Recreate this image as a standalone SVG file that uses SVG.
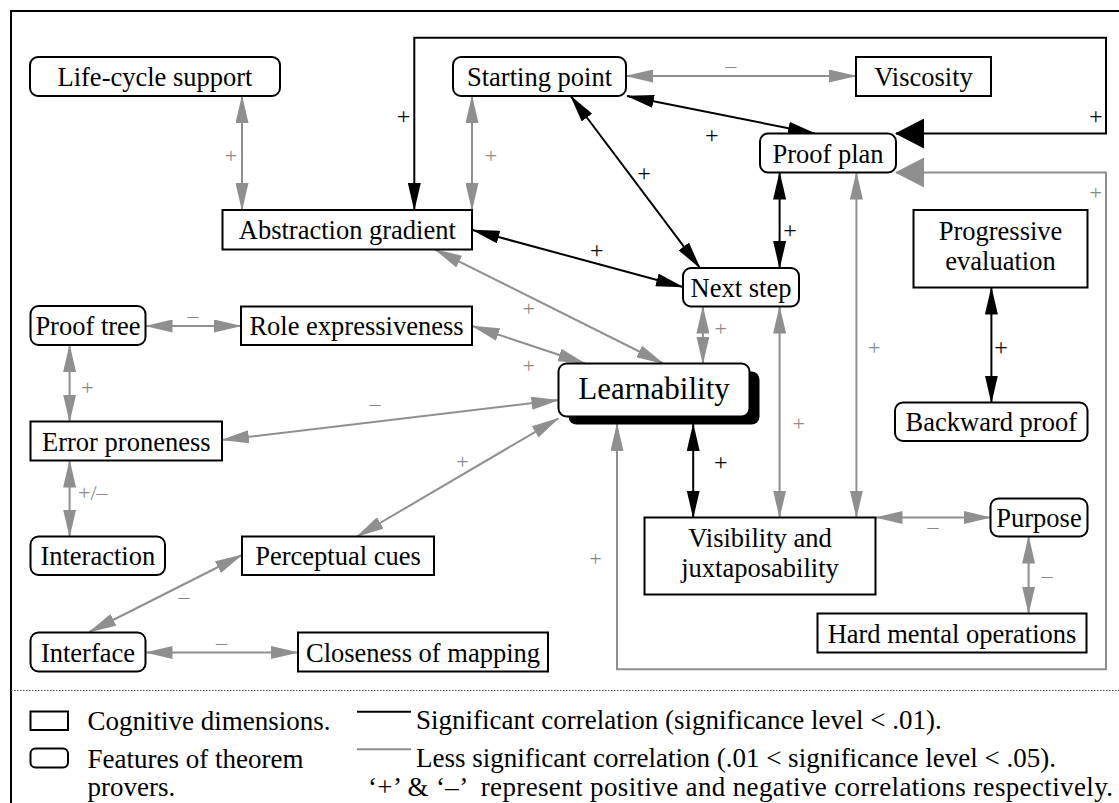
<svg xmlns="http://www.w3.org/2000/svg" width="1119" height="803" viewBox="0 0 1119 803">
<style>
text { font-family: "Liberation Serif", "Times New Roman", serif; }
.box { fill: #fff; stroke: #000; stroke-width: 2; }
.lbl { font-size: 26.5px; text-anchor: middle; fill: #000; }
.big { font-size: 31px; }
.cb { fill: none; stroke: #000; stroke-width: 2; marker-start: url(#aB); marker-end: url(#aB); }
.cg { fill: none; stroke: #8f8f8f; stroke-width: 2; marker-start: url(#aG); marker-end: url(#aG); }
.pb { font-size: 24px; text-anchor: middle; fill: #000; }
.pg { font-size: 22px; text-anchor: middle; fill: #8a8a8a; }
.leg { font-size: 27px; fill: #000; }
</style>
<defs>
<marker id="aB" markerUnits="userSpaceOnUse" viewBox="0 0 28 13" markerWidth="28" markerHeight="13" refX="27" refY="6.5" orient="auto-start-reverse"><path d="M0,0 L28,6.5 L0,13 z" fill="#000"/></marker>
<marker id="aG" markerUnits="userSpaceOnUse" viewBox="0 0 28 13" markerWidth="28" markerHeight="13" refX="27" refY="6.5" orient="auto-start-reverse"><path d="M0,0 L28,6.5 L0,13 z" fill="#8f8f8f"/></marker>
<marker id="bB" markerUnits="userSpaceOnUse" viewBox="0 0 29 30" markerWidth="29" markerHeight="30" refX="28" refY="15" orient="auto"><path d="M0,0 L29,15 L0,30 z" fill="#000"/></marker>
<marker id="bG" markerUnits="userSpaceOnUse" viewBox="0 0 29 30" markerWidth="29" markerHeight="30" refX="28" refY="15" orient="auto"><path d="M0,0 L29,15 L0,30 z" fill="#8f8f8f"/></marker>
</defs>
<rect width="1119" height="803" fill="#fff"/>
<!-- frame -->
<path d="M11,803 V11 H1119" fill="none" stroke="#000" stroke-width="2"/>
<line x1="11" y1="690.5" x2="1119" y2="690.5" stroke="#555" stroke-width="1" stroke-dasharray="1.5,1.5"/>

<g id="connectors">
<line class="cg" x1="242" y1="96" x2="242" y2="210"/>
<line class="cg" x1="472" y1="96" x2="472" y2="210"/>
<path d="M414.3,210 V37.7 H1106 V133.5 H896" fill="none" stroke="#000" stroke-width="2" marker-start="url(#aB)" marker-end="url(#bB)"/>
<line class="cg" x1="626" y1="76" x2="856" y2="76"/>
<line class="cb" x1="627" y1="96" x2="815" y2="133.5"/>
<line class="cb" x1="570.7" y1="96" x2="700" y2="268"/>
<line class="cb" x1="779.6" y1="172.5" x2="779.6" y2="268"/>
<line class="cb" x1="472.5" y1="230" x2="683" y2="287"/>
<line class="cg" x1="856.4" y1="172.5" x2="856.4" y2="517.5"/>
<path d="M617,424 V669.3 H1106 V172.5 H896" fill="none" stroke="#8f8f8f" stroke-width="2" marker-start="url(#aG)" marker-end="url(#bG)"/>
<line class="cg" x1="702.9" y1="306.5" x2="702.9" y2="363.5"/>
<line class="cg" x1="779.6" y1="306.5" x2="779.6" y2="517.5"/>
<line class="cb" x1="693.2" y1="424" x2="693.2" y2="517.5"/>
<line class="cb" x1="991.4" y1="287.5" x2="991.4" y2="402.5"/>
<line class="cg" x1="875.5" y1="517.5" x2="990.5" y2="517.5"/>
<line class="cg" x1="1028.6" y1="536.5" x2="1028.6" y2="613.5"/>
<line class="cg" x1="435" y1="249.5" x2="663.3" y2="363.5"/>
<line class="cg" x1="472.5" y1="326" x2="585" y2="363.5"/>
<line class="cg" x1="145.5" y1="326" x2="241" y2="326"/>
<line class="cg" x1="69.6" y1="345" x2="69.6" y2="421.5"/>
<line class="cg" x1="222" y1="440" x2="558.5" y2="400"/>
<line class="cg" x1="69.6" y1="460.5" x2="69.6" y2="536.5"/>
<line class="cg" x1="357" y1="536.5" x2="558.5" y2="418.3"/>
<line class="cg" x1="242" y1="555" x2="89.3" y2="632"/>
<line class="cg" x1="145.5" y1="652.5" x2="298" y2="652.5"/>

<!-- black labels -->
<text class="pb" x="403.6" y="124">+</text>
<text class="pb" x="1095.7" y="124">+</text>
<text class="pb" x="711.8" y="143">+</text>
<text class="pb" x="644" y="181">+</text>
<text class="pb" x="790" y="238">+</text>
<text class="pb" x="596.7" y="258">+</text>
<text class="pb" x="1001" y="354.5">+</text>
<text class="pb" x="720.7" y="469.5">+</text>
<!-- gray labels -->
<text class="pg" x="231" y="163">+</text>
<text class="pg" x="491" y="163">+</text>
<text class="pg" x="730.7" y="72.5">–</text>
<text class="pg" x="1095.7" y="199.5">+</text>
<text class="pg" x="720.7" y="335.5">+</text>
<text class="pg" x="874.3" y="354.5">+</text>
<text class="pg" x="798.6" y="431">+</text>
<text class="pg" x="933" y="534">–</text>
<text class="pg" x="1047" y="582.5">–</text>
<text class="pg" x="595.4" y="565.5">+</text>
<text class="pg" x="192.9" y="322.5">–</text>
<text class="pg" x="528.6" y="316">+</text>
<text class="pg" x="528.6" y="373">+</text>
<text class="pg" x="87.5" y="394.5">+</text>
<text class="pg" x="375" y="411">–</text>
<text class="pg" x="78" y="500" style="text-anchor:start">+/–</text>
<text class="pg" x="462.5" y="469">+</text>
<text class="pg" x="184" y="604">–</text>
<text class="pg" x="221.4" y="650">–</text>
</g>

<g id="life-cycle"><rect class="box" x="30" y="57" width="250" height="39" rx="8"/><text class="lbl" x="155" y="86">Life-cycle support</text></g>
<g id="starting-point"><rect class="box" x="453" y="57" width="173" height="39" rx="8"/><text class="lbl" x="539.5" y="86">Starting point</text></g>
<g id="viscosity"><rect class="box" x="856" y="57" width="135" height="39"/><text class="lbl" x="923.5" y="86">Viscosity</text></g>
<g id="proof-plan"><rect class="box" x="760" y="133.5" width="136" height="39" rx="8"/><text class="lbl" x="828" y="162.5">Proof plan</text></g>
<g id="abstraction-gradient"><rect class="box" x="222.5" y="210" width="249.5" height="39.5"/><text class="lbl" x="347.3" y="239">Abstraction gradient</text></g>
<g id="progressive-evaluation"><rect class="box" x="913.5" y="210" width="174" height="77.5"/><text class="lbl" x="1000.5" y="240">Progressive</text><text class="lbl" x="1000.5" y="270">evaluation</text></g>
<g id="next-step"><rect class="box" x="683" y="268" width="116" height="38.5" rx="8"/><text class="lbl" x="741" y="296.5">Next step</text></g>
<g id="proof-tree"><rect class="box" x="30.5" y="306" width="115" height="39" rx="8"/><text class="lbl" x="88" y="335">Proof tree</text></g>
<g id="role-expressiveness"><rect class="box" x="241" y="306.5" width="231" height="38.5"/><text class="lbl" x="356.5" y="335">Role expressiveness</text></g>
<g id="learnability"><rect x="568.5" y="371.5" width="191" height="53" rx="8" fill="#000"/><rect class="box" x="558.5" y="363.5" width="191" height="53" rx="8"/><text class="lbl big" x="654" y="399">Learnability</text></g>
<g id="error-proneness"><rect class="box" x="30.5" y="421.5" width="191.5" height="39"/><text class="lbl" x="126.3" y="450.5">Error proneness</text></g>
<g id="backward-proof"><rect class="box" x="895" y="402.5" width="192.5" height="38.5" rx="8"/><text class="lbl" x="991.3" y="431">Backward proof</text></g>
<g id="visibility"><rect class="box" x="644.5" y="517.5" width="231" height="77"/><text class="lbl" x="760" y="547">Visibility and</text><text class="lbl" x="760" y="577">juxtaposability</text></g>
<g id="purpose"><rect class="box" x="990.5" y="498.5" width="97" height="38" rx="8"/><text class="lbl" x="1039" y="527">Purpose</text></g>
<g id="interaction"><rect class="box" x="30.5" y="536.5" width="134.5" height="38.5" rx="8"/><text class="lbl" x="97.8" y="565">Interaction</text></g>
<g id="perceptual-cues"><rect class="box" x="242" y="536.5" width="192" height="38.5"/><text class="lbl" x="338" y="565">Perceptual cues</text></g>
<g id="hard-mental-operations"><rect class="box" x="817.5" y="613.5" width="269" height="39"/><text class="lbl" x="952" y="642.5">Hard mental operations</text></g>
<g id="interface"><rect class="box" x="30.5" y="632.5" width="115" height="39" rx="8"/><text class="lbl" x="88" y="661.5">Interface</text></g>
<g id="closeness-of-mapping"><rect class="box" x="298" y="632.5" width="250" height="39"/><text class="lbl" x="423" y="661.5">Closeness of mapping</text></g>

<g id="legend">
<rect x="30.5" y="711.5" width="37.5" height="18.5" fill="#fff" stroke="#000" stroke-width="2"/>
<rect x="30.5" y="748.5" width="37.5" height="19" rx="5" fill="#fff" stroke="#000" stroke-width="2"/>
<text class="leg" x="87.5" y="729.5">Cognitive dimensions.</text>
<text class="leg" x="87.5" y="768">Features of theorem</text>
<text class="leg" x="87.5" y="796">provers.</text>
<line x1="357" y1="711.7" x2="411" y2="711.7" stroke="#000" stroke-width="2"/>
<line x1="357" y1="749.3" x2="411" y2="749.3" stroke="#8f8f8f" stroke-width="2"/>
<text class="leg" x="416" y="729">Significant correlation (significance level &lt; .01).</text>
<text class="leg" x="416" y="767">Less significant correlation (.01 &lt; significance level &lt; .05).</text>
<text class="leg" x="368" y="796" textLength="745" lengthAdjust="spacing">‘+’ &amp; ‘–’ &#160;represent positive and negative correlations respectively.</text>
</g>
</svg>
